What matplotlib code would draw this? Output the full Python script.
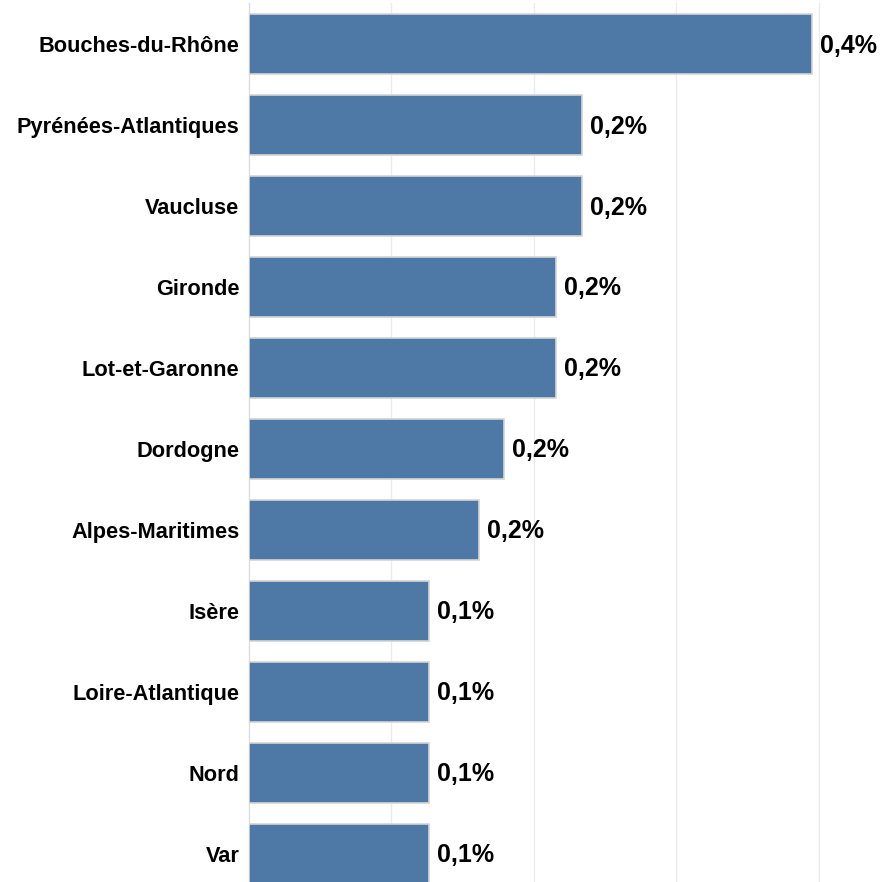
import matplotlib.pyplot as plt

departements = ["Bouches-du-Rhône", "Pyrénées-Atlantiques", "Vaucluse", "Gironde",
                "Lot-et-Garonne", "Dordogne", "Alpes-Maritimes", "Isère",
                "Loire-Atlantique", "Nord", "Var"]
valeurs = [0.395, 0.234, 0.234, 0.2155, 0.2155, 0.179, 0.1615, 0.1265, 0.1265, 0.1265, 0.1265]
etiquettes = ["0,4%", "0,2%", "0,2%", "0,2%", "0,2%", "0,2%", "0,2%",
              "0,1%", "0,1%", "0,1%", "0,1%"]

plt.rcParams['font.family'] = ['Liberation Sans', 'DejaVu Sans']

fig = plt.figure(figsize=(8.86, 8.82), dpi=100)
ax = fig.add_axes([249/886, 0, 637/886, 879/882])

y = list(range(len(departements)))
ax.barh(y, valeurs, height=0.74, color="#4e79a7", edgecolor="#d4d4d4", linewidth=1.2, zorder=3)

for yi, v, t in zip(y, valeurs, etiquettes):
    ax.text(v + 0.0055, yi + 0.02, t, va="center", ha="left", fontsize=18, fontweight="bold", color="black")

ax.set_xlim(0, 637/1425)
ax.set_ylim(10.35, -0.506)
ax.set_xticks([0.1, 0.2, 0.3, 0.4])
ax.set_xticklabels([])
ax.tick_params(axis="x", length=0)
ax.tick_params(axis="y", length=0, pad=7)
ax.set_yticks(y)
ax.set_yticklabels(departements, fontsize=15.7, fontweight="bold")
ax.grid(axis="x", color="#ebebeb", linewidth=1, zorder=0)

for s in ["top", "right", "bottom"]:
    ax.spines[s].set_visible(False)
ax.spines["left"].set_color("#dcdcdc")
ax.spines["left"].set_linewidth(1)

plt.savefig("out.png", dpi=100)
